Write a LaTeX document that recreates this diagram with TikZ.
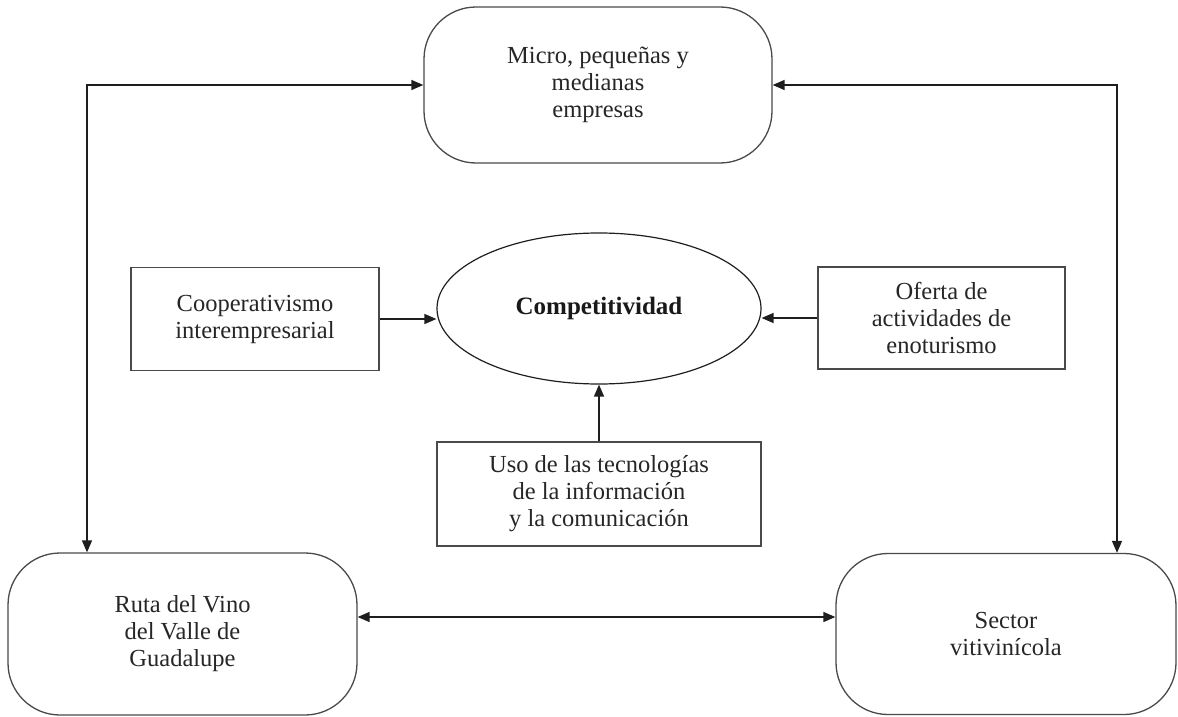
\documentclass[tikz,border=0pt]{standalone}
\usepackage{fontspec}
\setmainfont{Liberation Serif}
\usetikzlibrary{arrows.meta,shapes.geometric}
\definecolor{boxline}{HTML}{4A4A4A}
\definecolor{arrline}{HTML}{1E1E1E}
\tikzset{
  txt/.style={align=center, font=\fontsize{24.5}{27}\selectfont, text=black!85},
  rbox/.style={txt, draw=boxline, line width=1.3pt, rounded corners=52pt, inner sep=0pt},
  sbox/.style={txt, draw=boxline, line width=1.3pt, inner sep=0pt},
  ellbox/.style={ellipse, draw=arrline, line width=1.2pt, inner sep=0pt, font=\fontsize{25}{27}\selectfont\bfseries, text=black!90},
  conn/.style={draw=arrline, line width=1.4pt},
  arr/.style={conn, -{Triangle[length=12pt,width=10pt]}},
  darr/.style={conn, {Triangle[length=12pt,width=10pt]}-{Triangle[length=12pt,width=10pt]}}
}
\begin{document}
\begin{tikzpicture}[x=1pt,y=-1pt]
\useasboundingbox (0,0) rectangle (1178,717);
\node[rbox, minimum width=348pt, minimum height=156pt] (mp) at (598,85) {Micro, pequeñas y\\medianas\\empresas};
\node[rbox, minimum width=349pt, minimum height=162pt] (ruta) at (182.5,634) {Ruta del Vino\\del Valle de\\Guadalupe};
\node[rbox, minimum width=340pt, minimum height=161pt] (sv) at (1006,634) {Sector\\vitivinícola};
\node[ellbox, minimum width=324pt, minimum height=151pt] (comp) at (599,308.5) {Competitividad};
\node[sbox, minimum width=248pt, minimum height=103pt] (coop) at (255,319) {Cooperativismo\\interempresarial};
\node[sbox, minimum width=247pt, minimum height=102pt] (ofer) at (941.5,318) {Oferta de\\actividades de\\enoturismo};
\node[sbox, minimum width=324pt, minimum height=104pt] (uso) at (599,494) {Uso de las tecnologías\\de la información\\y la comunicación};
\coordinate (cl) at (87,86);
\coordinate (cr) at (1117,85);
\coordinate (cb) at (0,617);
\draw[darr] (ruta.north -| cl) |- (mp.west);
\draw[darr] (mp.east) -| (sv.north -| cr);
\draw[darr] (ruta.east |- cb) -- (sv.west |- cb);
\draw[arr] (coop.east) -- (coop.east -| comp.west);
\draw[arr] (ofer.west) -- (ofer.west -| comp.east);
\draw[arr] (uso.north) -- (comp.south);
\end{tikzpicture}
\end{document}
